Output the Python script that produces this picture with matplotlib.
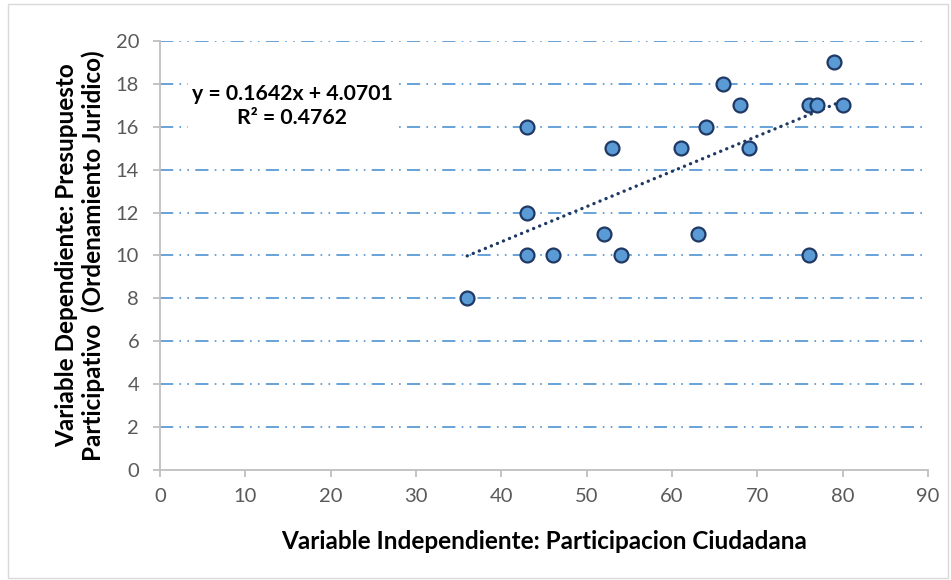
import numpy as np
import matplotlib.pyplot as plt
from matplotlib.patches import Rectangle

plt.rcParams['font.family'] = ['Lato', 'DejaVu Sans']
plt.rcParams['lines.scale_dashes'] = False

# datos
participacion = [36, 43, 43, 43, 46, 52, 53, 54, 61, 63, 64, 66, 68, 69, 76, 76, 77, 79, 80]
presupuesto = [8, 16, 12, 10, 10, 11, 15, 10, 15, 11, 16, 18, 17, 15, 17, 10, 17, 19, 17]

# linea de tendencia (segun la ecuacion del grafico)
pendiente = 0.1642
intercepto = 4.0701
r2 = 0.4762

fig = plt.figure(figsize=(9.51, 5.8), dpi=100)
ax = fig.add_axes([160 / 951, 1 - 470 / 580, 768 / 951, 429 / 580])

# borde del area del grafico
fig.patches.append(Rectangle((8 / 951, 2 / 580), 940 / 951, 574 / 580, transform=fig.transFigure,
                             fill=False, edgecolor='#D9D9D9', linewidth=1))

# cuadricula punteada
for yv in range(2, 21, 2):
    ax.axhline(yv, color='#5B9BD5', linewidth=1.3, linestyle=(0, (9.5, 4.5, 1.2, 4.5, 1.2, 4.5)), zorder=1)

x_lin = np.array([min(participacion), max(participacion)])
ax.plot(x_lin, pendiente * x_lin + intercepto, color='#1F3864', linewidth=2.4,
        linestyle=(0, (0.1, 4.6)), dash_capstyle='round', zorder=2)

ax.plot(participacion, presupuesto, 'o', markersize=10, markerfacecolor='#5B9BD5',
        markeredgecolor='#1F3864', markeredgewidth=1.6, zorder=3)

ax.set_xlim(0, 90)
ax.set_ylim(0, 20)
ax.set_xticks(range(0, 91, 10))
ax.set_yticks(range(0, 21, 2))

for s in ['top', 'right']:
    ax.spines[s].set_visible(False)
for s in ['left', 'bottom']:
    ax.spines[s].set_color('#BFBFBF')
    ax.spines[s].set_linewidth(1.3)
ax.tick_params(colors='#BFBFBF', labelcolor='#595959', labelsize=14.5, length=5, width=1.3)
ax.tick_params(axis='x', pad=8)
ax.tick_params(axis='y', pad=10)

ax.text(15.5, 16.95, 'y = %.4fx + %.4f\nR² = %.4f' % (pendiente, intercepto, r2),
        ha='center', va='center', fontsize=15.3, fontweight='bold', linespacing=1.25,
        bbox=dict(facecolor='white', edgecolor='none', pad=3), zorder=4)

ax.set_xlabel('Variable Independiente: Participacion Ciudadana', fontsize=17.5, fontweight='bold', labelpad=18)
ax.set_ylabel('Variable Dependiente: Presupuesto\nParticipativo  (Ordenamiento Juridico)',
              fontsize=17.5, fontweight='bold', labelpad=8, linespacing=1.15)

fig.savefig('out.png', dpi=100)
